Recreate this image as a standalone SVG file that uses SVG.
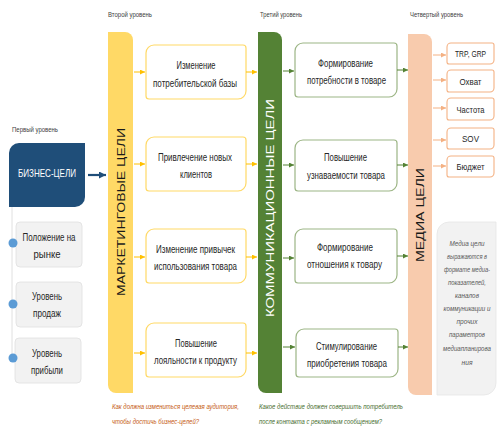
<svg xmlns="http://www.w3.org/2000/svg" width="498" height="434" viewBox="0 0 498 434">
<defs>
<style>
.lvl{font-family:"Liberation Sans Narrow","Liberation Sans",Arial,sans-serif;font-size:7px;fill:#404040}
.bt{font-family:"Liberation Sans Narrow","Liberation Sans",Arial,sans-serif;font-size:10.5px;fill:#262626;text-anchor:middle}
.pt{font-family:"Liberation Sans Narrow","Liberation Sans",Arial,sans-serif;font-size:10px;fill:#262626;text-anchor:middle}
.st{font-family:"Liberation Sans Narrow","Liberation Sans",Arial,sans-serif;font-size:9.5px;fill:#262626;text-anchor:middle}
.bar{font-family:"Liberation Sans",Arial,sans-serif;font-size:11px;text-anchor:middle}
.note{font-family:"Liberation Sans",Arial,sans-serif;font-size:6.5px;font-style:italic;fill:#595959;text-anchor:middle}
.q{font-family:"Liberation Sans",Arial,sans-serif;font-size:7px;font-style:italic}
.ybox{fill:#fff;stroke:#FFD966;stroke-width:1.2}
.gbox{fill:#fff;stroke:#9CB585;stroke-width:1.2}
.pbox{fill:#fff;stroke:#F4B183;stroke-width:1.1}
.lbox{fill:#F2F2F2;stroke:#E0E0E0;stroke-width:0.8}
.ya{stroke:#FFC000;stroke-width:1;fill:none}
.ga{stroke:#548235;stroke-width:1;fill:none}
.pa{stroke:#F4B183;stroke-width:1;fill:none}
</style>
<marker id="my" viewBox="0 0 6 6" refX="6" refY="3" markerWidth="5" markerHeight="5" markerUnits="userSpaceOnUse" orient="auto"><path d="M0,0 L6,3 L0,6 Z" fill="#FFC000"/></marker>
<marker id="mg" viewBox="0 0 6 6" refX="6" refY="3" markerWidth="5" markerHeight="5" markerUnits="userSpaceOnUse" orient="auto"><path d="M0,0 L6,3 L0,6 Z" fill="#548235"/></marker>
<marker id="mp" viewBox="0 0 6 6" refX="6" refY="3" markerWidth="5" markerHeight="5" markerUnits="userSpaceOnUse" orient="auto"><path d="M0,0 L6,3 L0,6 Z" fill="#F4B183"/></marker>
<marker id="mb" viewBox="0 0 6 6" refX="6" refY="3" markerWidth="7" markerHeight="7" markerUnits="userSpaceOnUse" orient="auto"><path d="M0,0 L6,3 L0,6 Z" fill="#1F4E79"/></marker>
</defs>

<!-- level labels -->
<text class="lvl" x="12" y="132" textLength="46" lengthAdjust="spacingAndGlyphs">Первый уровень</text>
<text class="lvl" x="108" y="17" textLength="44" lengthAdjust="spacingAndGlyphs">Второй уровень</text>
<text class="lvl" x="260" y="17" textLength="42" lengthAdjust="spacingAndGlyphs">Третий уровень</text>
<text class="lvl" x="410" y="17" textLength="53" lengthAdjust="spacingAndGlyphs">Четвертый уровень</text>

<!-- left column -->
<line x1="12" y1="207" x2="12" y2="360" stroke="#E0E0E0" stroke-width="1"/>
<g id="biz">
<path d="M19,143 H85 V197 A10,10 0 0 1 75,207 H9 V153 A10,10 0 0 1 19,143 Z" fill="#1F4E79"/>
<text x="47" y="177" font-family="Liberation Sans Narrow,Liberation Sans,Arial,sans-serif" font-size="11" fill="#fff" text-anchor="middle" textLength="58" lengthAdjust="spacingAndGlyphs">БИЗНЕС-ЦЕЛИ</text>
</g>
<g id="market-pos">
<rect class="lbox" x="16" y="222" width="66" height="45" rx="4"/>
<circle cx="13" cy="243" r="4.5" fill="#5B9BD5"/>
<text class="pt" x="49" y="240.5" textLength="53" lengthAdjust="spacingAndGlyphs">Положение на</text>
<text class="pt" x="47" y="257.5" textLength="27" lengthAdjust="spacingAndGlyphs">рынке</text>
</g>
<g id="sales">
<rect class="lbox" x="16" y="282" width="66" height="45" rx="4"/>
<circle cx="13" cy="304" r="4.5" fill="#5B9BD5"/>
<text class="pt" x="47" y="299.5" textLength="30" lengthAdjust="spacingAndGlyphs">Уровень</text>
<text class="pt" x="47" y="316.5" textLength="28" lengthAdjust="spacingAndGlyphs">продаж</text>
</g>
<g id="profit">
<rect class="lbox" x="15" y="338" width="66" height="45" rx="4"/>
<circle cx="13" cy="358" r="4.5" fill="#5B9BD5"/>
<text class="pt" x="47" y="356.5" textLength="30" lengthAdjust="spacingAndGlyphs">Уровень</text>
<text class="pt" x="47" y="373.5" textLength="32" lengthAdjust="spacingAndGlyphs">прибыли</text>
</g>

<!-- bars -->
<g id="bar-marketing">
<path d="M108,32 H125 A8,8 0 0 1 133,40 V393 H116 A8,8 0 0 1 108,385 Z" fill="#FFD966"/>
<text class="bar" transform="translate(124.5,212) rotate(-90)" fill="#1a1a1a" textLength="168" lengthAdjust="spacingAndGlyphs">МАРКЕТИНГОВЫЕ ЦЕЛИ</text>
</g>
<g id="bar-comm">
<path d="M258,32 H274 A8,8 0 0 1 282,40 V393 H266 A8,8 0 0 1 258,385 Z" fill="#548235"/>
<text class="bar" transform="translate(274,208) rotate(-90)" fill="#fff" textLength="218" lengthAdjust="spacingAndGlyphs">КОММУНИКАЦИОННЫЕ ЦЕЛИ</text>
</g>
<g id="bar-media">
<path d="M408,34 H424 A8,8 0 0 1 432,42 V395 H416 A8,8 0 0 1 408,387 Z" fill="#F8CBAD"/>
<text class="bar" transform="translate(424,215) rotate(-90)" fill="#1a1a1a" textLength="94" lengthAdjust="spacingAndGlyphs">МЕДИА ЦЕЛИ</text>
</g>

<!-- second level -->
<g id="y1">
<path class="ybox" d="M154,45 H243 A3,3 0 0 1 246,48 V91 A8,8 0 0 1 238,99 H149 A3,3 0 0 1 146,96 V53 A8,8 0 0 1 154,45 Z"/>
<text class="bt" x="196" y="68.5" textLength="39" lengthAdjust="spacingAndGlyphs">Изменение</text>
<text class="bt" x="195" y="86.5" textLength="84" lengthAdjust="spacingAndGlyphs">потребительской базы</text>
</g>
<g id="y2">
<path class="ybox" d="M154,137 H243 A3,3 0 0 1 246,140 V183 A8,8 0 0 1 238,191 H149 A3,3 0 0 1 146,188 V145 A8,8 0 0 1 154,137 Z"/>
<text class="bt" x="195" y="160.5" textLength="74" lengthAdjust="spacingAndGlyphs">Привлечение новых</text>
<text class="bt" x="196" y="178" textLength="32" lengthAdjust="spacingAndGlyphs">клиентов</text>
</g>
<g id="y3">
<path class="ybox" d="M154,229 H243 A3,3 0 0 1 246,232 V275 A8,8 0 0 1 238,283 H149 A3,3 0 0 1 146,280 V237 A8,8 0 0 1 154,229 Z"/>
<text class="bt" x="195.5" y="252.5" textLength="79" lengthAdjust="spacingAndGlyphs">Изменение привычек</text>
<text class="bt" x="195.5" y="270" textLength="83" lengthAdjust="spacingAndGlyphs">использования товара</text>
</g>
<g id="y4">
<path class="ybox" d="M154,323 H243 A3,3 0 0 1 246,326 V369 A8,8 0 0 1 238,377 H149 A3,3 0 0 1 146,374 V331 A8,8 0 0 1 154,323 Z"/>
<text class="bt" x="196" y="346.5" textLength="42" lengthAdjust="spacingAndGlyphs">Повышение</text>
<text class="bt" x="195.5" y="364" textLength="83" lengthAdjust="spacingAndGlyphs">лояльности к продукту</text>
</g>

<!-- third level -->
<g id="g1">
<path class="gbox" d="M303,43 H394 A3,3 0 0 1 397,46 V89 A8,8 0 0 1 389,97 H298 A3,3 0 0 1 295,94 V51 A8,8 0 0 1 303,43 Z"/>
<text class="bt" x="345.5" y="66.5" textLength="55" lengthAdjust="spacingAndGlyphs">Формирование</text>
<text class="bt" x="346.5" y="84" textLength="79" lengthAdjust="spacingAndGlyphs">потребности в товаре</text>
</g>
<g id="g2">
<path class="gbox" d="M303,140 H394 A3,3 0 0 1 397,143 V183 A8,8 0 0 1 389,191 H298 A3,3 0 0 1 295,188 V148 A8,8 0 0 1 303,140 Z"/>
<text class="bt" x="345.5" y="161" textLength="43" lengthAdjust="spacingAndGlyphs">Повышение</text>
<text class="bt" x="346" y="178.5" textLength="78" lengthAdjust="spacingAndGlyphs">узнаваемости товара</text>
</g>
<g id="g3">
<path class="gbox" d="M303,229 H394 A3,3 0 0 1 397,232 V275 A8,8 0 0 1 389,283 H298 A3,3 0 0 1 295,280 V237 A8,8 0 0 1 303,229 Z"/>
<text class="bt" x="345" y="250.5" textLength="56" lengthAdjust="spacingAndGlyphs">Формирование</text>
<text class="bt" x="344.5" y="268" textLength="75" lengthAdjust="spacingAndGlyphs">отношения к товару</text>
</g>
<g id="g4">
<path class="gbox" d="M304,329 H395 A3,3 0 0 1 398,332 V369 A8,8 0 0 1 390,377 H299 A3,3 0 0 1 296,374 V337 A8,8 0 0 1 304,329 Z"/>
<text class="bt" x="346.5" y="349.5" textLength="61" lengthAdjust="spacingAndGlyphs">Стимулирование</text>
<text class="bt" x="347" y="367" textLength="80" lengthAdjust="spacingAndGlyphs">приобретения товара</text>
</g>

<!-- fourth level -->
<g id="p1"><path class="pbox" d="M451,43 H492 A2,2 0 0 1 494,45 V60 A4,4 0 0 1 490,64 H449 A2,2 0 0 1 447,62 V47 A4,4 0 0 1 451,43 Z"/><text class="st" x="470.5" y="57" textLength="31" lengthAdjust="spacingAndGlyphs">TRP, GRP</text></g>
<g id="p2"><path class="pbox" d="M451,70 H492 A2,2 0 0 1 494,72 V88 A4,4 0 0 1 490,92 H449 A2,2 0 0 1 447,90 V74 A4,4 0 0 1 451,70 Z"/><text class="st" x="470.5" y="84.5" textLength="22" lengthAdjust="spacingAndGlyphs">Охват</text></g>
<g id="p3"><path class="pbox" d="M451,98 H492 A2,2 0 0 1 494,100 V116 A4,4 0 0 1 490,120 H449 A2,2 0 0 1 447,118 V102 A4,4 0 0 1 451,98 Z"/><text class="st" x="470.5" y="112.5" textLength="28" lengthAdjust="spacingAndGlyphs">Частота</text></g>
<g id="p4"><path class="pbox" d="M451,128 H492 A2,2 0 0 1 494,130 V145 A4,4 0 0 1 490,149 H449 A2,2 0 0 1 447,147 V132 A4,4 0 0 1 451,128 Z"/><text class="st" x="470.5" y="142" textLength="17" lengthAdjust="spacingAndGlyphs">SOV</text></g>
<g id="p5"><path class="pbox" d="M451,156 H492 A2,2 0 0 1 494,158 V173 A4,4 0 0 1 490,177 H449 A2,2 0 0 1 447,175 V160 A4,4 0 0 1 451,156 Z"/><text class="st" x="470.5" y="170" textLength="28" lengthAdjust="spacingAndGlyphs">Бюджет</text></g>

<g id="note">
<path d="M449,222 H496 V383 A12,12 0 0 1 484,395 H437 V234 A12,12 0 0 1 449,222 Z" fill="#F2F2F2" stroke="#E6E6E6" stroke-width="0.8"/>
<text class="note" x="467" y="245.5" textLength="35" lengthAdjust="spacingAndGlyphs">Медиа цели</text>
<text class="note" x="467" y="258.5" textLength="40" lengthAdjust="spacingAndGlyphs">выражаются в</text>
<text class="note" x="467" y="271.5" textLength="46" lengthAdjust="spacingAndGlyphs">формате медиа-</text>
<text class="note" x="467" y="284.5" textLength="38" lengthAdjust="spacingAndGlyphs">показателей,</text>
<text class="note" x="467" y="298" textLength="24" lengthAdjust="spacingAndGlyphs">каналов</text>
<text class="note" x="467" y="311" textLength="47" lengthAdjust="spacingAndGlyphs">коммуникации и</text>
<text class="note" x="467" y="323.5" textLength="21" lengthAdjust="spacingAndGlyphs">прочих</text>
<text class="note" x="467" y="336.5" textLength="36" lengthAdjust="spacingAndGlyphs">параметров</text>
<text class="note" x="467" y="351" textLength="48" lengthAdjust="spacingAndGlyphs">медиапланирова</text>
<text class="note" x="467" y="364.5" textLength="11" lengthAdjust="spacingAndGlyphs">ния</text>
</g>

<!-- questions -->
<text class="q" fill="#C55A11" x="112" y="408.5" textLength="127" lengthAdjust="spacingAndGlyphs">Как должна измениться целевая аудитория,</text>
<text class="q" fill="#C55A11" x="112" y="423.5" textLength="87" lengthAdjust="spacingAndGlyphs">чтобы достичь бизнес-целей?</text>
<text class="q" fill="#476D2E" x="259" y="408.5" textLength="144" lengthAdjust="spacingAndGlyphs">Какое действие должен совершить потребитель</text>
<text class="q" fill="#476D2E" x="259" y="423.5" textLength="123" lengthAdjust="spacingAndGlyphs">после контакта с рекламным сообщением?</text>

<!-- connectors -->
<g id="connectors">
<line x1="88" y1="175" x2="106" y2="175" stroke="#1F4E79" stroke-width="2.2" marker-end="url(#mb)"/>
<line class="ya" x1="134" y1="72" x2="145" y2="72" marker-end="url(#my)"/>
<line class="ya" x1="134" y1="164" x2="145" y2="164" marker-end="url(#my)"/>
<line class="ya" x1="134" y1="257" x2="145" y2="257" marker-end="url(#my)"/>
<line class="ya" x1="134" y1="353" x2="145" y2="353" marker-end="url(#my)"/>
<line class="ya" x1="246" y1="72" x2="257" y2="72" marker-end="url(#my)"/>
<line class="ya" x1="246" y1="164" x2="257" y2="164" marker-end="url(#my)"/>
<line class="ya" x1="246" y1="257" x2="257" y2="257" marker-end="url(#my)"/>
<line class="ya" x1="246" y1="353" x2="257" y2="353" marker-end="url(#my)"/>
<line class="ga" x1="283" y1="71" x2="294" y2="71" marker-end="url(#mg)"/>
<line class="ga" x1="283" y1="165" x2="294" y2="165" marker-end="url(#mg)"/>
<line class="ga" x1="283" y1="258" x2="294" y2="258" marker-end="url(#mg)"/>
<line class="ga" x1="283" y1="347" x2="295" y2="347" marker-end="url(#mg)"/>
<line class="ga" x1="397" y1="70" x2="408" y2="70" marker-end="url(#mg)"/>
<line class="ga" x1="397" y1="165" x2="408" y2="165" marker-end="url(#mg)"/>
<line class="ga" x1="397" y1="256" x2="408" y2="256" marker-end="url(#mg)"/>
<line class="ga" x1="398" y1="347" x2="408" y2="347" marker-end="url(#mg)"/>
<line class="pa" x1="433" y1="55" x2="446" y2="55" marker-end="url(#mp)"/>
<line class="pa" x1="433" y1="80" x2="446" y2="80" marker-end="url(#mp)"/>
<line class="pa" x1="433" y1="108" x2="446" y2="108" marker-end="url(#mp)"/>
<line class="pa" x1="433" y1="140" x2="446" y2="140" marker-end="url(#mp)"/>
<line class="pa" x1="433" y1="166" x2="446" y2="166" marker-end="url(#mp)"/>
</g>
</svg>
